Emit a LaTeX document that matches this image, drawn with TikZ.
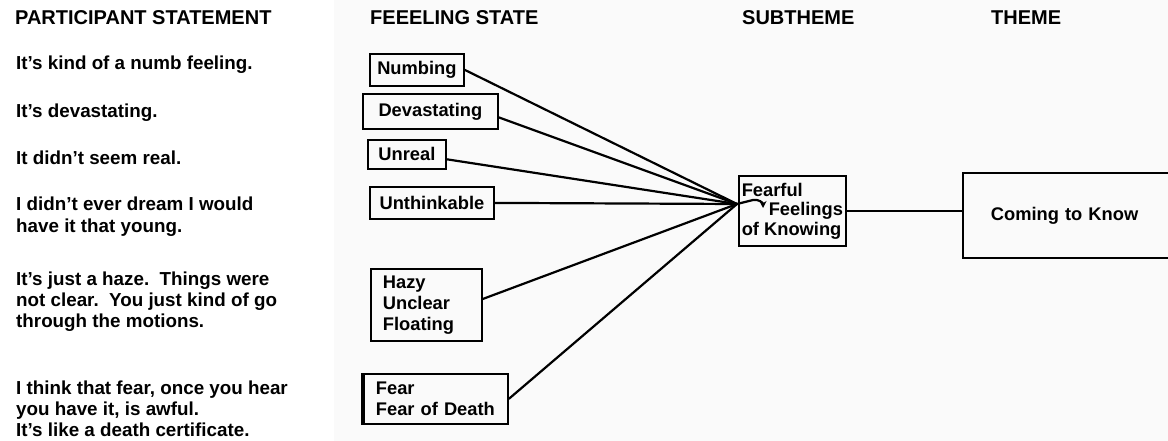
\documentclass[tikz,border=0pt]{standalone}
\usepackage{fontspec}
\setmainfont{Liberation Sans}
\usetikzlibrary{arrows.meta,calc}
\begin{document}
\begin{tikzpicture}[x=1pt,y=-1pt,
  every node/.style={font=\bfseries\fontsize{18.3}{21}\selectfont},
  head/.style={font=\bfseries\fontsize{20}{24}\selectfont, anchor=base west, inner sep=0pt},
  stmt/.style={font=\bfseries\fontsize{18.8}{21}\selectfont, anchor=base west, inner sep=0pt, align=left},
  fbox/.style={draw, line width=1.8pt, anchor=north west, inner ysep=0pt},
  link/.style={line width=2.2pt}]
  \clip (0,0) rectangle (1168,441);
  \useasboundingbox (0,0) rectangle (1168,441);
  \fill[black!2] (334,0) rectangle (1168,441);

  % column headings
  \node[head] (h1) at (15,25) {PARTICIPANT STATEMENT};
  \node[head] (h2) at (370,25) {FEEELING STATE};
  \node[head] (h3) at (742,25) {SUBTHEME};
  \node[head] (h4) at (991,25) {THEME};

  % participant statements (base anchor sits on the last line)
  \node[stmt] (s1) at (16,70)  {It's kind of a numb feeling.};
  \node[stmt] (s2) at (16,118) {It's devastating.};
  \node[stmt] (s3) at (16,165) {It didn't seem real.};
  \node[stmt] (s4) at (16,232) {I didn't ever dream I would\\have it that young.};
  \node[stmt] (s5) at (16,327) {It's just a haze.\ \ Things were\\not clear.\ \ You just kind of go\\through the motions.};
  \node[stmt] (s6) at (16,436) {I think that fear, once you hear\\you have it, is awful.\\It's like a death certificate.};

  % feeling states
  \node[fbox, minimum width=94pt, minimum height=32pt] (numb) at (369,53) {Numbing};
  \node[fbox, minimum width=135pt, minimum height=35pt] (dev) at (362,93) {Devastating};
  \node[fbox, minimum width=78pt, minimum height=29pt] (unreal) at (367,139) {Unreal};
  \node[fbox, minimum width=124pt, minimum height=32pt] (unth) at (369,186) {Unthinkable};
  \node[fbox, minimum width=111pt, minimum height=72pt, text width=87pt, inner xsep=12pt, align=left] (hazy) at (370,268) {Hazy\\Unclear\\Floating};
  \node[fbox, minimum width=144pt, minimum height=50pt, text width=120pt, inner xsep=12pt, align=left] (fear) at (363,373) {Fear\\Fear of Death};
  \draw[line width=4pt] (fear.north west) -- (fear.south west);

  % subtheme and theme
  \node[fbox, minimum width=107pt, minimum height=70pt, inner xsep=2pt, align=left,
        font=\bfseries\fontsize{18.3}{19.5}\selectfont] (sub) at (738,175)
        {Fearful\\\hspace*{27pt}Feelings\\of Knowing};
  \node[fbox, minimum width=260pt, minimum height=85pt, text width=204pt, inner xsep=28pt, align=left] (theme) at (962,172) {Coming to Know};

  % connectors
  \coordinate (conv) at (737,204);
  \draw[link] (numb.east) -- (conv);
  \draw[link] (dev.-5) -- (conv);
  \draw[link] (unreal.-7) -- (conv);
  \draw[link] (unth.east) -- (conv);
  \draw[link] (hazy.6) -- (conv);
  \draw[link] (fear.east) -- (conv);
  \draw[line width=2.2pt, -{Stealth[length=7pt,width=7pt]}]
    (conv) -- ++(16,-4) .. controls +(6,-1) and +(0,-5) .. ++(10,8);
  \draw[link] (sub.east) -- (sub.east -| theme.west);
\end{tikzpicture}
\end{document}
